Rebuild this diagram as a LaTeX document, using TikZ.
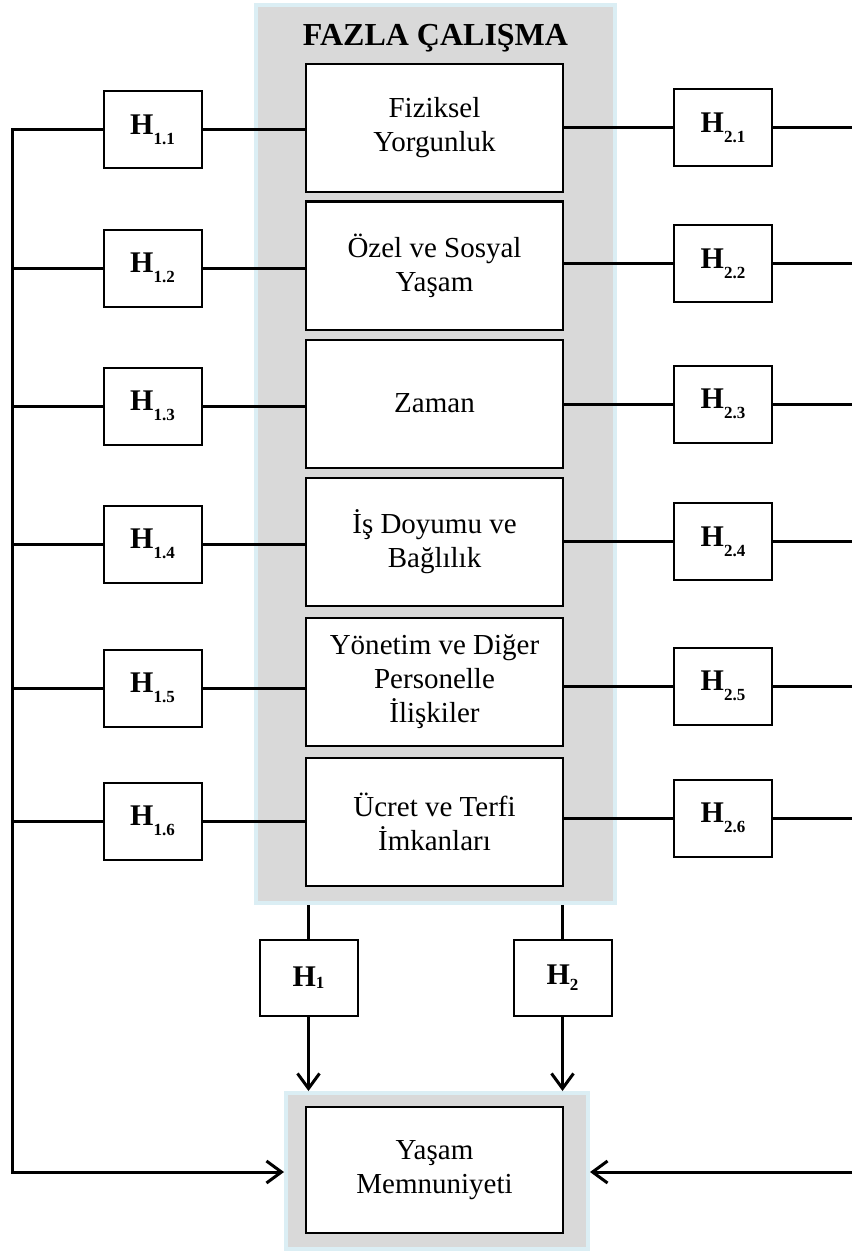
\documentclass[tikz,border=0pt]{standalone}
\usepackage{fontspec}
\setmainfont{Liberation Serif}
\usetikzlibrary{arrows.meta}
\definecolor{framegray}{HTML}{D9D9D9}
\definecolor{frameblue}{HTML}{DBEEF4}
\newcommand\hyp[2]{\textbf{H\raisebox{-#2pt}{\fontsize{17}{17}\selectfont #1}}}
\begin{document}
\begin{tikzpicture}[x=1pt,y=-1pt,
  frame/.style={draw=frameblue,fill=framegray,line width=4pt},
  factor/.style={draw=black,fill=white,line width=2pt,minimum width=257pt,minimum height=128pt,
     align=center,font=\fontsize{29}{34}\selectfont,inner sep=0pt},
  hbox/.style={draw=black,fill=white,line width=2pt,minimum width=98pt,minimum height=77pt,
     inner sep=0pt,font=\fontsize{30}{34}\selectfont},
  conn/.style={line width=3pt},
  arr/.style={line width=3pt,-{Straight Barb[length=15pt,width=22pt,line width=3pt]}}]
\useasboundingbox (0,0) rectangle (852,1252);
% main frame
\node[frame,minimum width=359pt,minimum height=898pt] (frame) at (435.5,454) {};
\node[font=\fontsize{32}{34}\selectfont\bfseries] (title) at (435.5,38) {FAZLA ÇALIŞMA};
% factor boxes
\node[factor] (b1) at (434.5,128) {Fiziksel\\Yorgunluk};
\node[factor] (b2) at (434.5,265.5) {Özel ve Sosyal\\Yaşam};
\node[factor] (b3) at (434.5,403.5) {Zaman};
\node[factor] (b4) at (434.5,542) {İş Doyumu ve\\Bağlılık};
\node[factor] (b5) at (434.5,682) {Yönetim ve Diğer\\Personelle\\İlişkiler};
\node[factor] (b6) at (434.5,822) {Ücret ve Terfi\\İmkanları};
% left hypotheses
\node[hbox] (l1) at (152.5,129.5) {\hyp{1.1}{10}};
\node[hbox] (l2) at (152.5,268) {\hyp{1.2}{10}};
\node[hbox] (l3) at (152.5,406) {\hyp{1.3}{10}};
\node[hbox] (l4) at (152.5,544) {\hyp{1.4}{10}};
\node[hbox] (l5) at (152.5,688) {\hyp{1.5}{10}};
\node[hbox] (l6) at (152.5,821) {\hyp{1.6}{10}};
% right hypotheses
\node[hbox] (r1) at (723,127.5) {\hyp{2.1}{10}};
\node[hbox] (r2) at (723,263.5) {\hyp{2.2}{10}};
\node[hbox] (r3) at (723,404) {\hyp{2.3}{10}};
\node[hbox] (r4) at (723,541.5) {\hyp{2.4}{10}};
\node[hbox] (r5) at (723,686) {\hyp{2.5}{10}};
\node[hbox] (r6) at (723,818) {\hyp{2.6}{10}};
% bottom hypotheses
\node[hbox,minimum height=76pt] (h1) at (308.5,978) {\hyp{1}{2}};
\node[hbox,minimum height=76pt] (h2) at (562.5,978) {\hyp{2}{6}};
% outcome
\node[frame,minimum width=302pt,minimum height=156pt] (bframe) at (437,1171) {};
\node[factor,minimum height=126pt] (ls) at (434.5,1170) {Yaşam\\Memnuniyeti};
% coordinates
\coordinate (spinetop) at (12,129.5);
\coordinate (spinebot) at (12,1172);
\coordinate (redge) at (852,1172);
% left connectors
\draw[conn,line cap=rect] (l1.west) -- (spinetop) -- (spinebot);
\draw[arr] (spinebot) -- (spinebot -| bframe.west);
\foreach \i in {2,...,6}{
  \draw[conn] (l\i.west) -- (l\i.west -| spinetop);
}
\foreach \i in {1,...,6}{
  \draw[conn] (l\i.east) -- (l\i.east -| b\i.west);
  \draw[conn] (r\i.west) -- (r\i.west -| b\i.east);
  \draw[conn] (r\i.east) -- (r\i.east -| redge);
}
\draw[arr] (redge) -- (redge -| bframe.east);
% bottom connectors
\draw[conn] (frame.south -| h1.north) -- (h1.north);
\draw[conn] (frame.south -| h2.north) -- (h2.north);
\draw[arr] (h1.south) -- (h1.south |- bframe.north);
\draw[arr] (h2.south) -- (h2.south |- bframe.north);
\end{tikzpicture}
\end{document}
